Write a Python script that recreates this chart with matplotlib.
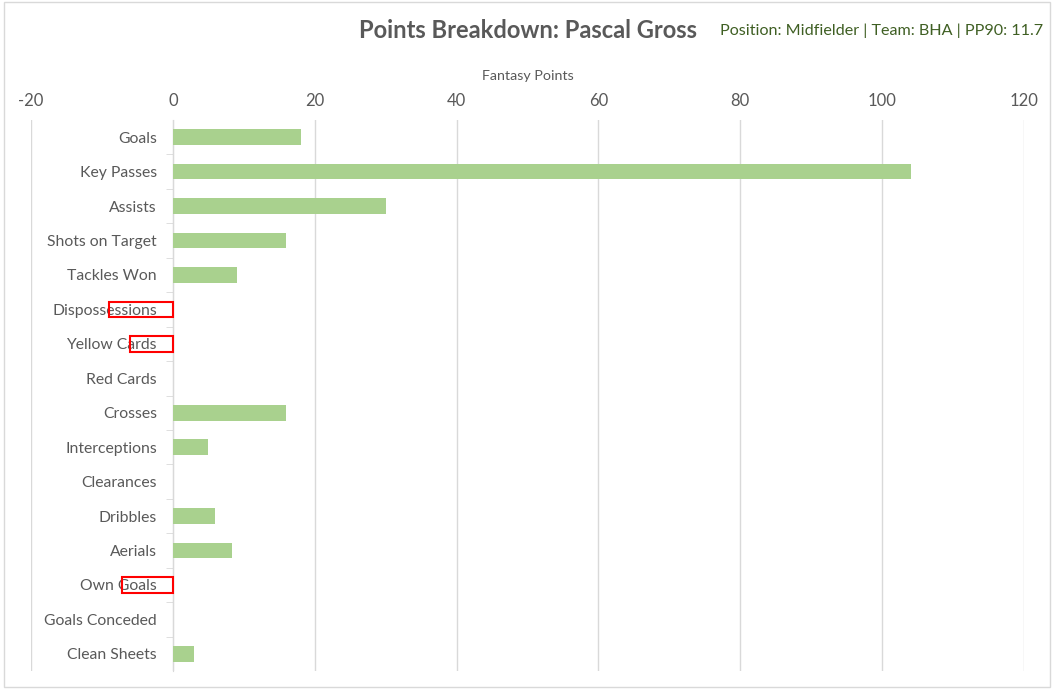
import matplotlib.pyplot as plt
from matplotlib.patches import Rectangle

# data
categories = ["Goals", "Key Passes", "Assists", "Shots on Target", "Tackles Won",
              "Dispossessions", "Yellow Cards", "Red Cards", "Crosses", "Interceptions",
              "Clearances", "Dribbles", "Aerials", "Own Goals", "Goals Conceded",
              "Clean Sheets"]
points = [18, 104, 30, 16, 9, -9, -6, 0, 16, 5, 0, 6, 8.3, -7.2, 0, 3]
x_ticks = [-20, 0, 20, 40, 60, 80, 100, 120]

TEXT = "#595959"
GRID = "#d9d9d9"
plt.rcParams["font.family"] = ["Lato", "DejaVu Sans"]
plt.rcParams["axes.unicode_minus"] = False

fig = plt.figure(figsize=(10.6, 6.91), dpi=100)
ax = fig.add_axes([31 / 1060, 1 - 671 / 691, (1024 - 31) / 1060, (671 - 120) / 691])

# border around the whole chart
fig.patches.append(Rectangle((4 / 1060, 1 - 687 / 691), 1046 / 1060, 685 / 691,
                             transform=fig.transFigure, fill=False,
                             edgecolor=GRID, linewidth=1))

ypos = list(range(len(categories)))
for y, v in zip(ypos, points):
    if v >= 0:
        ax.barh(y, v, height=0.455, color="#A9D18E", zorder=3)
    else:
        ax.barh(y, v, height=0.455, facecolor="none", edgecolor="#ff0000",
                linewidth=1.5, zorder=4)

ax.set_xlim(-20, 120)
ax.set_ylim(len(categories) - 0.5, -0.5)
ax.set_xticks(x_ticks)
ax.xaxis.tick_top()
ax.xaxis.set_label_position("top")
ax.set_xlabel("Fantasy Points", color=TEXT, fontsize=10.3, labelpad=9)
ax.tick_params(axis="x", length=0, labelsize=12, labelcolor=TEXT, pad=8)
ax.grid(axis="x", color=GRID, linewidth=1, zorder=0)

# category axis crosses at zero
for s in ["top", "right", "bottom"]:
    ax.spines[s].set_visible(False)
ax.spines["left"].set_position(("data", 0))
ax.spines["left"].set_color(GRID)
ax.set_yticks(ypos)
ax.set_yticklabels(categories)
ax.set_yticks([y + 0.5 for y in ypos[:-1]], minor=True)
ax.tick_params(axis="y", which="major", length=0, labelsize=11.3, labelcolor=TEXT, pad=11.5)
ax.tick_params(axis="y", which="minor", length=5, color=GRID)
for lbl in ax.get_yticklabels():
    lbl.set_zorder(2)

fig.text(528 / 1060, 1 - 31 / 691, "Points Breakdown: Pascal Gross", ha="center",
         va="center", fontsize=17.1, fontweight="bold", color=TEXT)
fig.text(1043 / 1060, 1 - 31 / 691, "Position: Midfielder | Team: BHA | PP90: 11.7",
         ha="right", va="center", fontsize=11.6, color="#3f5f23")

fig.savefig("out.png", dpi=100)
